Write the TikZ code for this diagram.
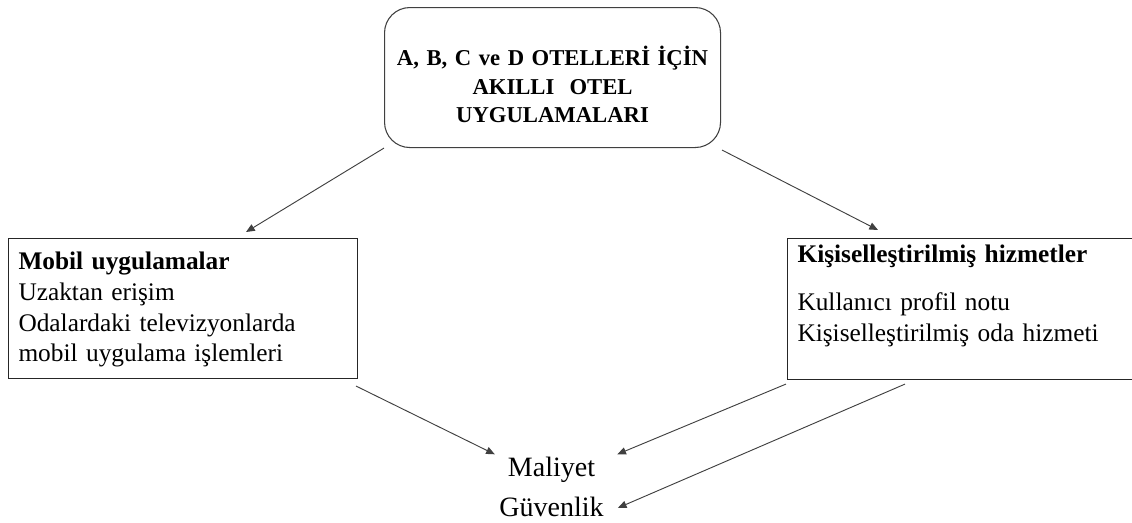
\documentclass[tikz,border=0pt]{standalone}
\usepackage{fontspec}
\setmainfont{Liberation Serif}
\usepackage{tikz}
\usetikzlibrary{arrows.meta}

\begin{document}
\begin{tikzpicture}[x=0.75pt,y=-0.75pt,
    box/.style={draw=black!85, line width=0.8pt, inner xsep=7.5pt, inner ysep=0pt,
        align=left, anchor=north west, font=\fontsize{19pt}{23pt}\selectfont},
    arr/.style={-{Triangle[length=6.5pt,width=5.5pt]}, draw=black!75, line width=0.7pt},
    lbl/.style={anchor=base, inner sep=3.3pt, font=\fontsize{21pt}{25pt}\selectfont}]
    \useasboundingbox (0,0) rectangle (1132,522);

    % Main box
    \node[draw=black!75, line width=0.8pt, rounded corners=19pt, anchor=north west,
        inner xsep=0pt, inner ysep=0pt, text width=252pt, align=center,
        text height=43.5pt, text depth=61.5pt,
        font=\fontsize{17pt}{21.4pt}\selectfont\bfseries] (otel) at (384,7)
        {A, B, C ve D OTELLERİ İÇİN\\ AKILLI\ \ OTEL\\ UYGULAMALARI};

    % Left box
    \node[box, text width=246.75pt, text height=23.5pt, text depth=81.5pt] (mobil) at (8,238)
        {\textbf{Mobil uygulamalar}\\ Uzaktan erişim\\ Odalardaki televizyonlarda\\ mobil uygulama işlemleri};

    % Right box (cut at the page edge)
    \node[box, text width=246.75pt, text height=18pt, text depth=87.75pt] (hizmet) at (787,238)
        {\textbf{Kişiselleştirilmiş hizmetler}\\[13pt] Kullanıcı profil notu\\ Kişiselleştirilmiş oda hizmeti};

    % Results
    \node[lbl] (maliyet) at (551.5,476) {Maliyet};
    \node[lbl] (guvenlik) at (551.5,516) {Güvenlik};

    % Arrows
    \draw[arr] (otel.south west) -- ([shift={(63,-6)}]mobil.north);
    \draw[arr] ([shift={(1,2)}]otel.south east) -- ([shift={(91,-8)}]hizmet.north west);
    \draw[arr] ([shift={(-2,7)}]mobil.south east) -- ([shift={(-8.5,2.4)}]maliyet.north west);
    \draw[arr] ([shift={(-1,4)}]hizmet.south west) -- ([shift={(17.6,2.4)}]maliyet.north east);
    \draw[arr] ([shift={(118,4)}]hizmet.south west) -- ([shift={(9.6,1.5)}]guvenlik.east);
\end{tikzpicture}
\end{document}
